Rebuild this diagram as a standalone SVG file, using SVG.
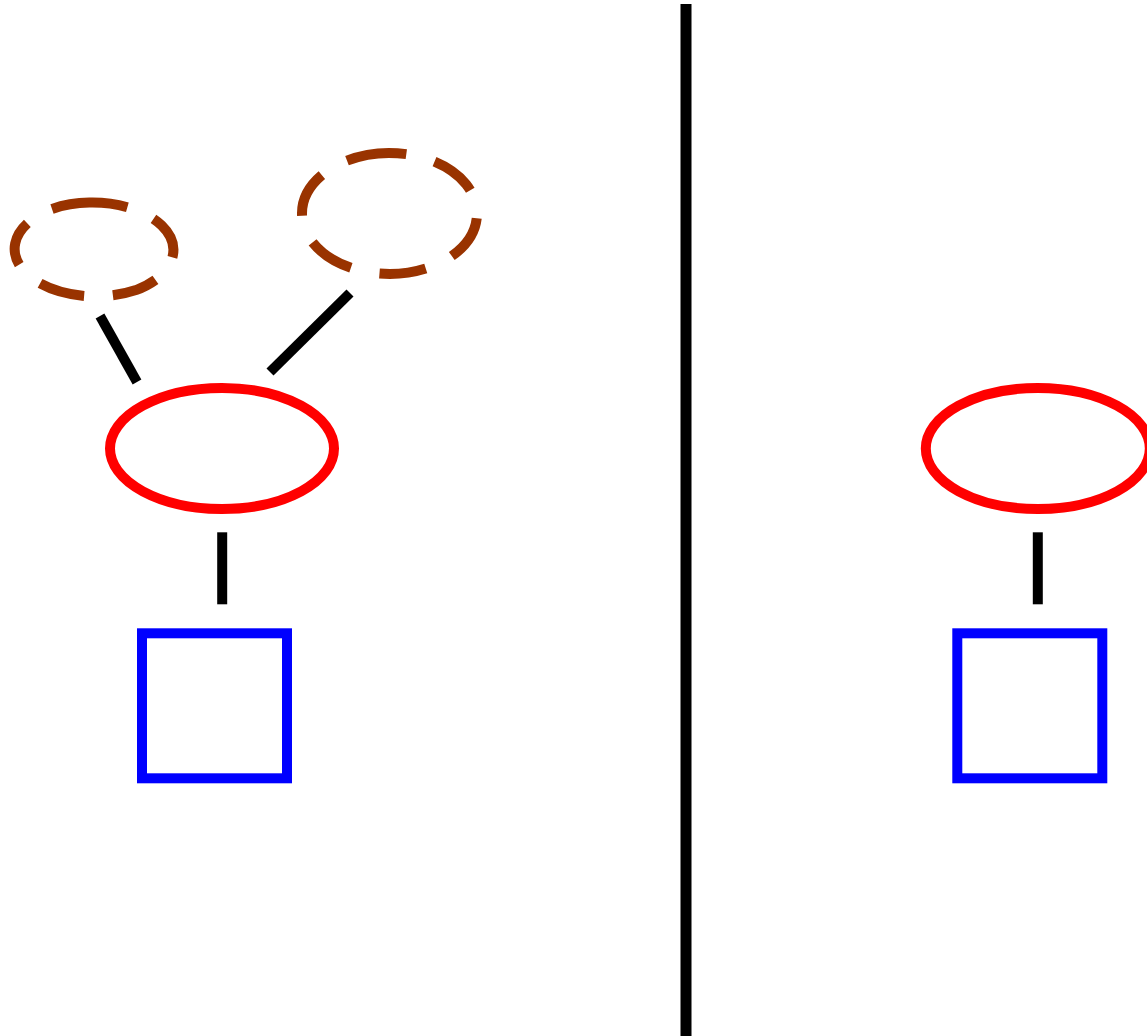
<svg xmlns="http://www.w3.org/2000/svg" width="1147" height="1036" viewBox="0 0 1147 1036">
<style>
.ell{fill:none;stroke:#ff0000;stroke-width:10}
.box{fill:none;stroke:#0000ff;stroke-width:10}
.dash{fill:none;stroke:#993300;stroke-width:10}
.conn{stroke:#000;stroke-width:10;stroke-linecap:butt;fill:none}
</style>
<rect width="1147" height="1036" fill="#fff"/>
<g id="divider"><line class="conn" x1="686" y1="4" x2="686" y2="1036" style="stroke-width:11"/></g>
<g id="dashed-left"><path class="dash" pathLength="422" stroke-dasharray="80 30 48 30 48 30 48 30 48 30" d="M52,208.9 A81,47.5 0 0 1 136,290.1 A81,47.5 0 0 1 52,208.9 Z"/></g>
<g id="dashed-right"><path class="dash" pathLength="482" stroke-dasharray="62 30 48 30 48 30 48 30 48 30 48 30" d="M347,160.6 A87.5,60.5 0 0 1 432,266.4 A87.5,60.5 0 0 1 347,160.6 Z"/></g>
<g id="ellipse-left"><ellipse class="ell" cx="222" cy="448.5" rx="112" ry="60.5"/></g>
<g id="box-left"><rect class="box" x="142" y="633.3" width="145" height="145"/></g>
<g id="ellipse-right"><ellipse class="ell" cx="1037.8" cy="448.5" rx="112" ry="60.5"/></g>
<g id="box-right"><rect class="box" x="957.3" y="633.3" width="145" height="145"/></g>
<g id="connectors">
<line class="conn" x1="100" y1="316" x2="137" y2="382"/>
<line class="conn" x1="350" y1="293" x2="270" y2="372"/>
<line class="conn" x1="222.2" y1="532.3" x2="222.2" y2="604.3"/>
<line class="conn" x1="1037.8" y1="532.3" x2="1037.8" y2="604.3"/>
</g>
</svg>
